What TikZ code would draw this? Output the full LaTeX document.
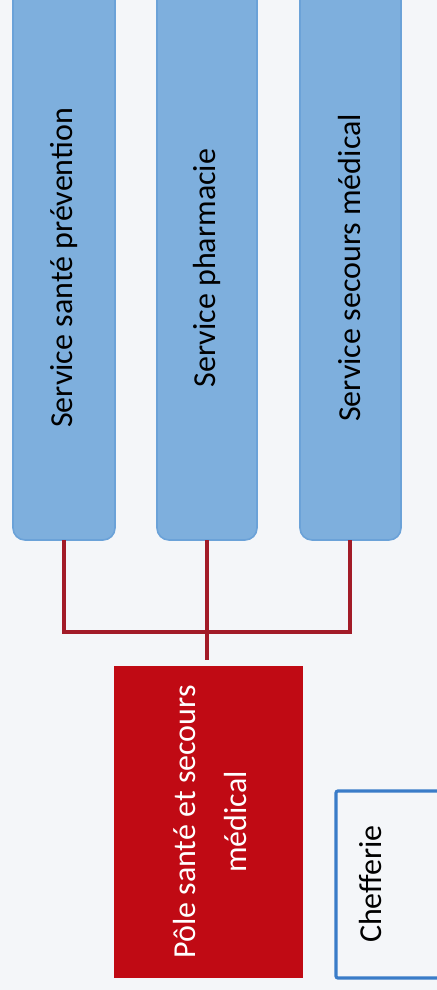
\documentclass[tikz,border=0pt]{standalone}
\usepackage{fontspec}
\setmainfont{Carlito}
\usepackage{xcolor}
\usepackage{tikz}
\definecolor{paper}{HTML}{F4F6F9}
\definecolor{svcfill}{HTML}{7EAFDD}
\definecolor{svcline}{HTML}{6BA2D8}
\definecolor{polered}{HTML}{C00A14}
\definecolor{linkred}{HTML}{A21B28}
\definecolor{chefblue}{HTML}{3A7CC8}
\tikzset{
  svc/.style={draw=svcline, fill=svcfill, line width=0.8pt, rounded corners=6pt},
  pole/.style={fill=polered},
  chef/.style={draw=chefblue, line width=1.6pt, rounded corners=1pt},
  link/.style={draw=linkred, line width=2pt},
  vtext/.style={rotate=90, font=\fontsize{16}{25.5}\selectfont, align=center},
}
\begin{document}
\begin{tikzpicture}[x=0.5pt,y=-0.5pt]
  \fill[paper] (0,0) rectangle (437,990);
  \useasboundingbox (0,0) rectangle (437,990);
  % service boxes (top)
  \draw[svc] (13,-12) rectangle (115,540);
  \draw[svc] (157,-12) rectangle (257,540);
  \draw[svc] (300,-12) rectangle (401,540);
  \node[vtext] (prev) at (64,268) {Service santé prévention};
  \node[vtext] (pharma) at (207,268) {Service pharmacie};
  \node[vtext] (secours) at (350,268) {Service secours médical};
  \coordinate (prevb) at (64,540);
  \coordinate (pharmab) at (207,540);
  \coordinate (secoursb) at (350,540);
  % pole
  \fill[pole] (114,666) rectangle (303,978);
  \node[vtext, text=white] (pole) at (210,822) {Pôle santé et secours\\médical};
  \coordinate (poletop) at (207,660);
  % chefferie (cut at the right edge)
  \draw[chef] (336,791) rectangle (460,978);
  \node[vtext] (chefferie) at (370,884) {Chefferie};
  % links
  \coordinate (bus) at (207,632);
  \draw[link] (prevb) |- (bus) -| (secoursb);
  \draw[link] (pharmab) -- (poletop);
\end{tikzpicture}
\end{document}
